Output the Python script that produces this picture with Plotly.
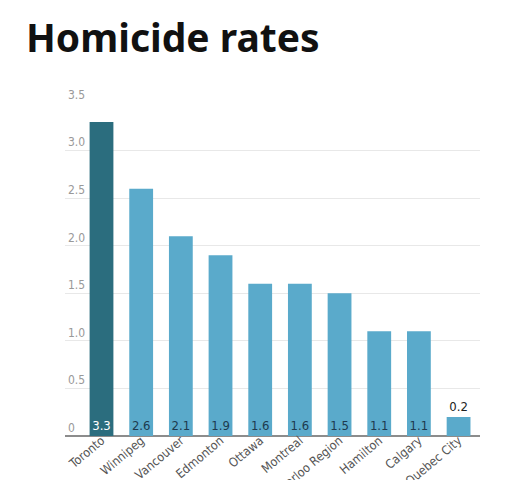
import plotly.graph_objects as go

cities = ["Toronto", "Winnipeg", "Vancouver", "Edmonton", "Ottawa", "Montreal",
          "Waterloo Region", "Hamilton", "Calgary", "Quebec City"]
rates = [3.3, 2.6, 2.1, 1.9, 1.6, 1.6, 1.5, 1.1, 1.1, 0.2]
y_ticks = [0, 0.5, 1.0, 1.5, 2.0, 2.5, 3.0, 3.5]
y_tick_labels = ["0", "0.5", "1.0", "1.5", "2.0", "2.5", "3.0", "3.5"]

NARROW = "Liberation Sans Narrow, DejaVu Sans Condensed, Lato, sans-serif"

bar_colors = ["#2b6d7e"] + ["#5aaacb"] * (len(cities) - 1)
text_colors = ["#ffffff"] + ["#1d3a4f"] * (len(cities) - 2) + ["#222222"]
positions = ["inside"] * (len(cities) - 1) + ["outside"]

fig = go.Figure()
fig.add_trace(go.Bar(
    x=cities,
    y=rates,
    text=[f"{v:.1f}" for v in rates],
    textposition=positions,
    insidetextanchor="start",
    textangle=0,
    textfont=dict(family=NARROW, size=13, color=text_colors),
    constraintext="none",
    cliponaxis=False,
    marker=dict(color=bar_colors, line=dict(width=0)),
    width=0.6,
    hoverinfo="x+y",
))

# page body adds an 8px offset, so the figure is sized to end at the window edge
fig.update_layout(
    width=515,
    height=472,
    margin=dict(l=57, r=43, t=95, b=44, autoexpand=False),
    paper_bgcolor="white",
    plot_bgcolor="white",
    showlegend=False,
    title=dict(
        text="<b>Homicide rates</b>",
        font=dict(family="Noto Sans, Open Sans, sans-serif", size=39, color="#111111"),
        x=18 / 515, xanchor="left", xref="container",
        y=0.935, yanchor="middle", yref="container",
    ),
)
fig.update_xaxes(
    range=[-0.92, 9.54],
    tickangle=-40,
    tickfont=dict(family=NARROW, size=12.5, color="#555555"),
    ticks="",
    ticklabelstandoff=-6,
    showgrid=False,
    showline=False,
    automargin=False,
    ticklabeloverflow="allow",
)
fig.update_yaxes(
    range=[0, 3.5],
    tickvals=y_ticks,
    ticktext=y_tick_labels,
    ticklabelposition="inside top",
    ticklabeloverflow="allow",
    automargin=False,
    tickfont=dict(family=NARROW, size=12, color="#999999"),
    showgrid=True,
    gridcolor="#e8e8e8",
    gridwidth=1,
    zeroline=True,
    zerolinecolor="#8c8c8c",
    zerolinewidth=2,
)

fig.write_html("out.html")
